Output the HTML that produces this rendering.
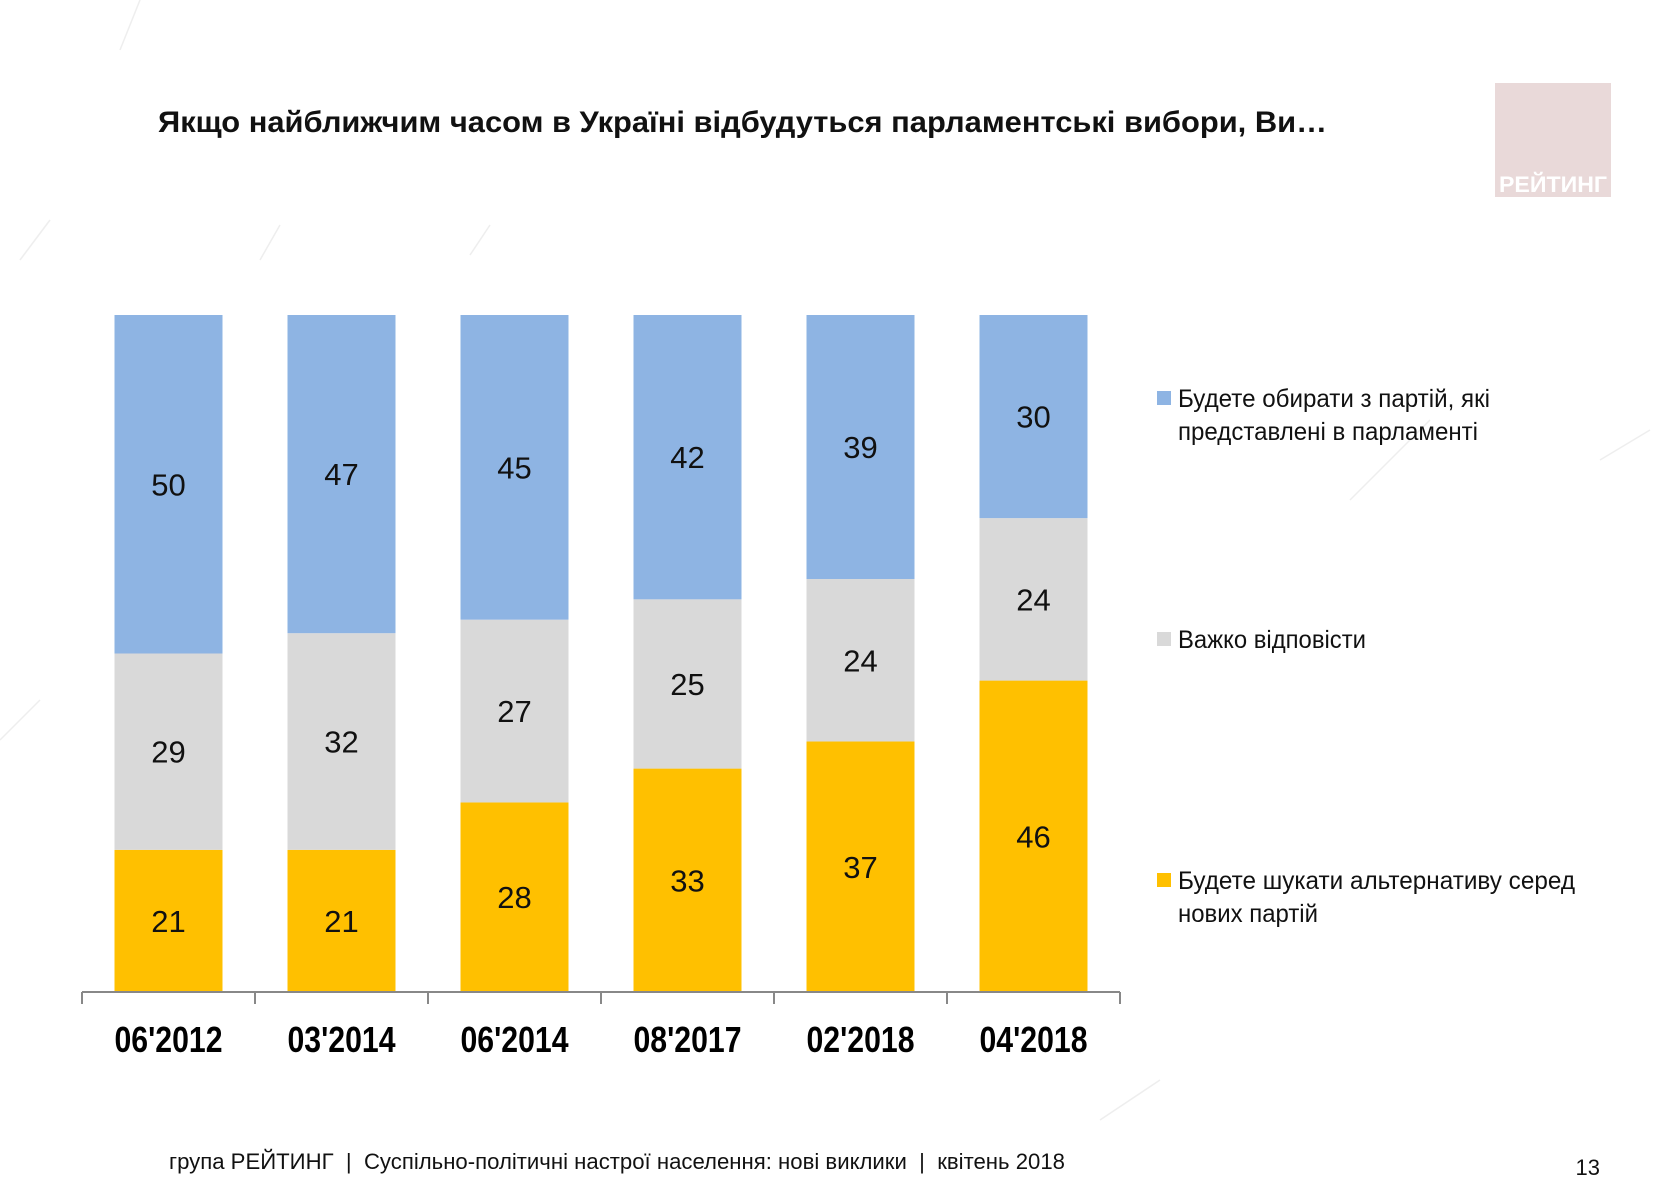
<!DOCTYPE html>
<html><head><meta charset="utf-8"><style>
html,body{margin:0;padding:0;background:#fff;}
svg{display:block;font-family:"Liberation Sans","DejaVu Sans",sans-serif;}
</style></head><body>
<svg id="chart" width="1654" height="1181" viewBox="0 0 1654 1181" xmlns="http://www.w3.org/2000/svg">
<g stroke="#eeeeee" stroke-width="1.5" fill="none">
<line x1="120" y1="50" x2="140" y2="0"/><line x1="20" y1="260" x2="50" y2="220"/>
<line x1="260" y1="260" x2="280" y2="225"/><line x1="470" y1="255" x2="490" y2="225"/>
<line x1="0" y1="740" x2="40" y2="700"/><line x1="1600" y1="460" x2="1650" y2="430"/>
<line x1="1100" y1="1120" x2="1160" y2="1080"/><line x1="1350" y1="500" x2="1430" y2="420"/>
</g>
<text x="158" y="132" font-size="30" font-weight="bold" fill="#111" textLength="1169" lengthAdjust="spacingAndGlyphs">Якщо найближчим часом в Україні відбудуться парламентські вибори, Ви…</text>
<g>
<rect x="1495" y="83" width="116" height="114" fill="#e9d9d9"/>
<text x="1553" y="192" font-size="22" font-weight="bold" fill="#fff" text-anchor="middle" textLength="108" lengthAdjust="spacingAndGlyphs">РЕЙТИНГ</text>
</g>
<g id="plot"></g>
<g>
<g>
<rect x="1157" y="391" width="14" height="14" fill="#8eb4e3"/>
<text x="1178" y="407" font-size="25" fill="#111" textLength="312" lengthAdjust="spacingAndGlyphs">Будете обирати з партій, які</text>
<text x="1178" y="440" font-size="25" fill="#111" textLength="300" lengthAdjust="spacingAndGlyphs">представлені в парламенті</text>
</g>
<g>
<rect x="1157" y="632" width="14" height="14" fill="#d9d9d9"/>
<text x="1178" y="648" font-size="25" fill="#111" textLength="188" lengthAdjust="spacingAndGlyphs">Важко відповісти</text>
</g>
<g>
<rect x="1157" y="873" width="14" height="14" fill="#ffc000"/>
<text x="1178" y="889" font-size="25" fill="#111" textLength="397" lengthAdjust="spacingAndGlyphs">Будете шукати альтернативу серед</text>
<text x="1178" y="922" font-size="25" fill="#111" textLength="140" lengthAdjust="spacingAndGlyphs">нових партій</text>
</g>
</g>
<text x="169" y="1169" font-size="22" fill="#111" style="white-space:pre" textLength="896" lengthAdjust="spacingAndGlyphs">група РЕЙТИНГ  |  Суспільно-політичні настрої населення: нові виклики  |  квітень 2018</text>
<text x="1600" y="1175" font-size="22" fill="#111" text-anchor="end">13</text>
</svg>
<script>
const categories = ["06'2012","03'2014","06'2014","08'2017","02'2018","04'2018"];
const newParties = [21,21,28,33,37,46];
const hardToSay = [29,32,27,25,24,24];
const parliament = [50,47,45,42,39,30];
const seriesColors = ["#ffc000","#d9d9d9","#8eb4e3"];
const seriesNames = ["new-parties","hard-to-say","parliament"];

const NS = "http://www.w3.org/2000/svg";
const plot = document.getElementById('plot');
const x0 = 82, x1 = 1120, yBottom = 992, yTop = 315;
const step = (x1 - x0) / categories.length;
const barW = 108;
function xCenter(i){ return x0 + step*(i+0.5); }
function yScale(v){ return yBottom - (yBottom - yTop) * v / 100; }
function mk(tag, attrs){ const e = document.createElementNS(NS, tag); for (const k in attrs) e.setAttribute(k, attrs[k]); return e; }

const series = [newParties, hardToSay, parliament];
categories.forEach((c, i) => {
  let cum = 0;
  series.forEach((s, si) => {
    const v = s[i];
    const yt = yScale(cum + v), yb = yScale(cum);
    const r = mk('rect', {x: xCenter(i)-barW/2, y: yt, width: barW, height: yb-yt, fill: seriesColors[si]});
    
    
    plot.appendChild(r);
    const t = mk('text', {x: xCenter(i), y: (yt+yb)/2 + 11, 'font-size': 31, fill: '#111', 'text-anchor': 'middle'});
    t.textContent = v;
    
    
    plot.appendChild(t);
    cum += v;
  });
  const lab = mk('text', {x: xCenter(i), y: 1052, 'font-size': 36, 'font-weight': 'bold', fill: '#000', 'text-anchor': 'middle', textLength: 108, lengthAdjust: 'spacingAndGlyphs'});
  lab.textContent = c;
  
  
  plot.appendChild(lab);
});
const axis = mk('line', {x1: x0, y1: yBottom, x2: x1, y2: yBottom, stroke: '#888', 'stroke-width': 2});


plot.appendChild(axis);
for (let i = 0; i <= categories.length; i++) {
  const tk = mk('line', {x1: x0+step*i, y1: yBottom, x2: x0+step*i, y2: yBottom+12, stroke: '#888', 'stroke-width': 2});
  
  
  plot.appendChild(tk);
}
</script>
</body></html>
